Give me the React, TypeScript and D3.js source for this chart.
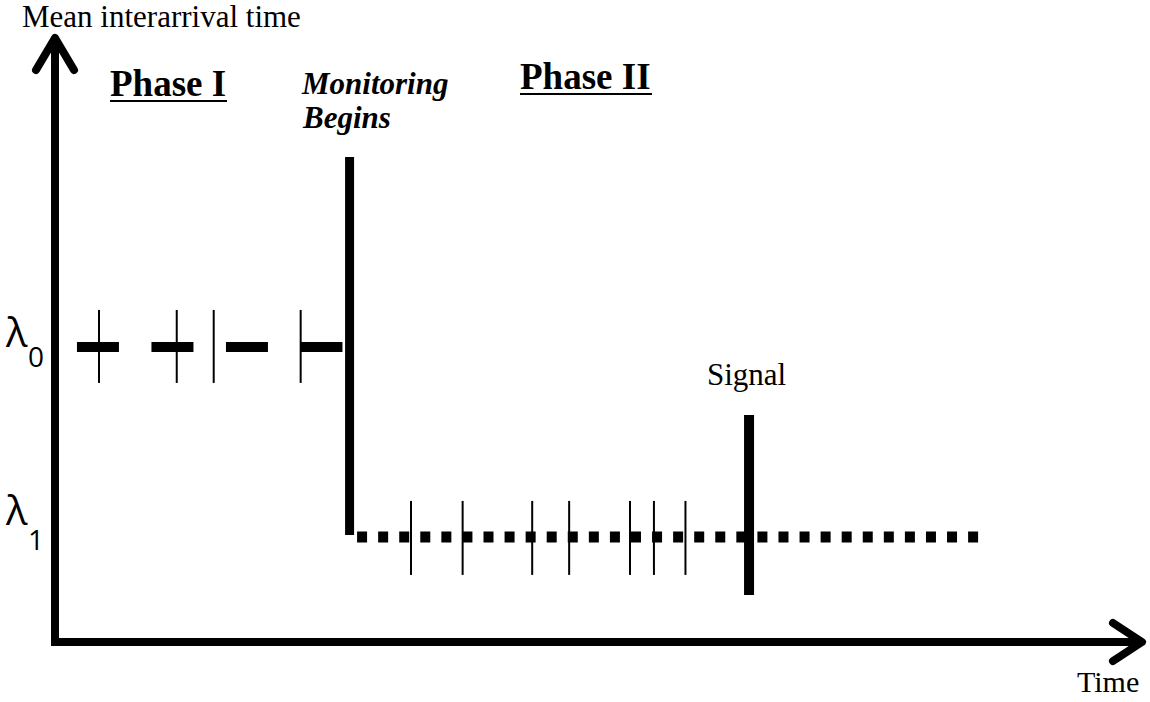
import React from "react";
import * as d3 from "d3";

// ---- data (time units 0..100, mean interarrival values) ----
const phaseIEvents = [4.05, 11.2, 14.6, 22.6];
const phaseIIEvents = [32.75, 37.5, 43.9, 47.3, 52.9, 55.1, 58.0];
const phaseIStart = 2.02;
const monitoringStart = 27.1;
const phaseIIEnd = 85.0;
const signalTime = 63.85;
const lambda0 = 2;
const lambda1 = 1;
const monitoringTop = 3.0;
const signalRange = [0.695, 1.642];
const lambdaLabels = [
  { sub: "0", value: lambda0, dy: 0, subDy: 20 },
  { sub: "1", value: lambda1, dy: -12, subDy: 13 },
];

const W = 1150;
const H = 702;
const serif = "'Liberation Serif', 'Times New Roman', serif";
const sans = "'Open Sans', 'Noto Sans', sans-serif";

export default function App() {
  const x = d3.scaleLinear().domain([0, 100]).range([55, 1142]);
  const y = d3.scaleLinear().domain([0.447, 3.626]).range([642, 38]);
  const line = d3.line<[number, number]>();

  const x0 = x(0);
  const y0 = y(0.447);
  const xEnd = x(100);
  const yTop = y(3.626);

  const yL0 = y(lambda0);
  const yL1 = y(lambda1);
  const xMon = x(monitoringStart);

  return (
    <svg
      width={W}
      height={H}
      style={{ position: "absolute", left: 0, top: 0, background: "#fff" }}
    >
      {/* axes */}
      <path
        d={line([[x0, yTop + 2], [x0, y0], [xEnd - 2, y0]]) || ""}
        fill="none"
        stroke="#000"
        strokeWidth={8}
        strokeLinejoin="miter"
      />
      <path
        d={line([[x0 - 19, yTop + 32], [x0, yTop], [x0 + 19, yTop + 32]]) || ""}
        fill="none"
        stroke="#000"
        strokeWidth={8}
        strokeLinecap="round"
        strokeLinejoin="round"
      />
      <path
        d={line([[xEnd - 29, y0 - 19], [xEnd, y0], [xEnd - 29, y0 + 19]]) || ""}
        fill="none"
        stroke="#000"
        strokeWidth={8}
        strokeLinecap="round"
        strokeLinejoin="round"
      />

      {/* Phase I dashed level */}
      <path
        d={line([[x(phaseIStart), yL0], [xMon - 7, yL0]]) || ""}
        stroke="#000"
        strokeWidth={10}
        strokeDasharray="42 32.5"
        fill="none"
      />
      {phaseIEvents.map((t, i) => (
        <line
          key={"p1" + i}
          x1={x(t)}
          x2={x(t)}
          y1={yL0 - 37}
          y2={yL0 + 36}
          stroke="#000"
          strokeWidth={2}
        />
      ))}

      {/* Monitoring line */}
      <line
        x1={xMon}
        x2={xMon}
        y1={y(monitoringTop)}
        y2={yL1 - 2}
        stroke="#000"
        strokeWidth={9}
      />

      {/* Phase II dotted level */}
      <path
        d={line([[xMon + 7.5, yL1], [x(phaseIIEnd), yL1]]) || ""}
        stroke="#000"
        strokeWidth={11}
        strokeDasharray="10 11.07"
        fill="none"
      />
      {phaseIIEvents.map((t, i) => (
        <line
          key={"p2" + i}
          x1={x(t)}
          x2={x(t)}
          y1={yL1 - 36}
          y2={yL1 + 38}
          stroke="#000"
          strokeWidth={2}
        />
      ))}

      {/* Signal */}
      <line
        x1={x(signalTime)}
        x2={x(signalTime)}
        y1={y(signalRange[1])}
        y2={y(signalRange[0])}
        stroke="#000"
        strokeWidth={10}
      />
      <text x={707} y={385} fontFamily={serif} fontSize={31}>
        Signal
      </text>

      {/* lambda labels */}
      {lambdaLabels.map((l) => (
        <g key={l.sub}>
          <text x={6} y={y(l.value) + l.dy} fontFamily={sans} fontSize={40}>
            λ
          </text>
          <text x={28} y={y(l.value) + l.subDy} fontFamily={sans} fontSize={28}>
            {l.sub}
          </text>
        </g>
      ))}

      {/* axis titles */}
      <text x={22} y={27} fontFamily={serif} fontSize={31}>
        Mean interarrival time
      </text>
      <text x={1077} y={692} fontFamily={serif} fontSize={30}>
        Time
      </text>

      {/* phase labels */}
      <text x={110} y={96} fontFamily={serif} fontSize={37} fontWeight="bold">
        Phase I
      </text>
      <line x1={110} x2={227} y1={101} y2={101} stroke="#000" strokeWidth={2} />
      <text x={520} y={89} fontFamily={serif} fontSize={37} fontWeight="bold">
        Phase II
      </text>
      <line x1={520} x2={652} y1={94} y2={94} stroke="#000" strokeWidth={2} />

      <text
        x={302}
        y={94}
        fontFamily={serif}
        fontSize={31}
        fontWeight="bold"
        fontStyle="italic"
      >
        Monitoring
      </text>
      <text
        x={303}
        y={128}
        fontFamily={serif}
        fontSize={31}
        fontWeight="bold"
        fontStyle="italic"
      >
        Begins
      </text>
    </svg>
  );
}
